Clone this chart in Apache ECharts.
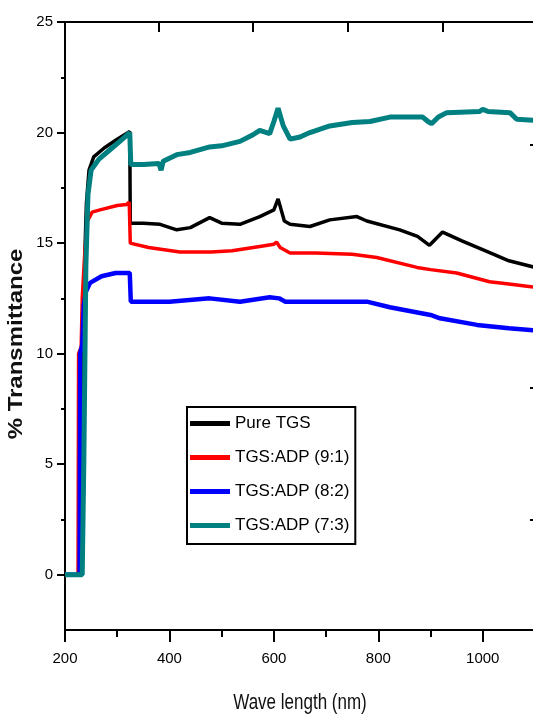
<!DOCTYPE html>
<html>
<head>
<meta charset="utf-8">
<script src="https://cdn.jsdelivr.net/npm/echarts@6/dist/echarts.min.js"></script>
<style>html,body{margin:0;padding:0;background:#fff;}#chart{width:533px;height:717px;}</style>
</head>
<body>
<div id="chart"></div>
<script>
// ---- data (wavelength nm, % transmittance) ----
const seriesNames = ['Pure TGS', 'TGS:ADP (9:1)', 'TGS:ADP (8:2)', 'TGS:ADP (7:3)'];
const pureTGS = [[200,0],[232,0],[234,9],[238,14.5],[241,16.8],[246,18.3],[255,18.9],[275,19.3],[300,19.7],[324,20.05],[325,15.9],[350,15.9],[382,15.85],[414,15.6],[440,15.7],[477,16.15],[500,15.9],[535,15.85],[573,16.2],[600,16.5],[608,17.0],[620,16.0],[631,15.85],[669,15.75],[707,16.05],[759,16.2],[778,16.0],[841,15.6],[875,15.3],[898,14.9],[923,15.5],[960,15.1],[1020,14.5],[1050,14.2],[1100,13.9]];
const adp91 = [[200,0],[225,0],[226,10],[231,10.3],[233,12.5],[238,14.6],[243,16.0],[252,16.4],[267,16.5],[300,16.7],[318,16.75],[323,16.85],[325,15.0],[360,14.8],[420,14.6],[480,14.6],[520,14.65],[573,14.85],[600,14.95],[605,15.05],[612,14.8],[631,14.55],[680,14.55],[750,14.5],[797,14.35],[874,13.9],[900,13.8],[950,13.65],[1013,13.25],[1050,13.15],[1100,13.0]];
const adp82 = [[200,0],[228,0],[229,10],[233,10.4],[236,12.2],[240,12.8],[248,13.2],[270,13.5],[297,13.65],[324,13.65],[326,12.35],[400,12.35],[477,12.5],[535,12.35],[592,12.55],[610,12.5],[622,12.35],[700,12.35],[778,12.35],[822,12.1],[900,11.75],[918,11.6],[989,11.3],[1050,11.15],[1100,11.05]];
const adp73 = [[200,0],[233,0],[236,5],[240,14],[244,17.2],[250,18.3],[265,18.8],[285,19.2],[305,19.6],[324,20.0],[326,18.55],[350,18.55],[380,18.6],[384,18.3],[388,18.7],[414,19.0],[440,19.1],[477,19.35],[500,19.4],[535,19.6],[560,19.9],[573,20.1],[592,19.95],[600,20.5],[608,21.1],[618,20.3],[631,19.7],[650,19.8],[669,20.0],[707,20.3],[750,20.45],[784,20.5],[822,20.7],[885,20.7],[895,20.5],[902,20.4],[915,20.7],[931,20.9],[994,20.95],[1000,21.05],[1010,20.95],[1052,20.9],[1065,20.6],[1100,20.55]];
const xMajorTicks = [200, 400, 600, 800, 1000];
const xMinorTicks = [300, 500, 700, 900];
const xTopTicks = [380, 560, 742, 923];
const yMajorTicks = [0, 5, 10, 15, 20, 25];
const yMinorTicks = [2.5, 7.5, 12.5, 17.5, 22.5];
const yRightTicks = [2.49, 8.46, 19.46];
const colors = ['#000000', '#ff0000', '#0000ff', '#008080'];
const widths = [3.5, 3.5, 4.5, 5];

const FONT = '"Liberation Sans", Arial, sans-serif';
const axisLineStyle = { color: '#000', width: 2 };
const plain = v => String(v);

const chart = echarts.init(document.getElementById('chart'), null, { renderer: 'canvas' });
const allData = [pureTGS, adp91, adp82, adp73];

chart.setOption({
  backgroundColor: '#fff',
  animation: false,
  grid: { left: 65, right: -2, top: 22, bottom: 87, containLabel: false, outerBoundsMode: 'none' },
  xAxis: [
    { type: 'value', position: 'bottom', min: 200, max: 1100,
      axisLine: { show: true, onZero: false, lineStyle: axisLineStyle },
      axisTick: { show: true, inside: false, length: 12, customValues: xMajorTicks, lineStyle: { color: '#000', width: 2 } },
      axisLabel: { show: true, customValues: xMajorTicks, formatter: plain, margin: 21, fontFamily: FONT, fontSize: 15, color: '#000' },
      splitLine: { show: false } },
    { type: 'value', position: 'bottom', min: 200, max: 1100,
      axisLine: { show: false, onZero: false },
      axisTick: { show: true, inside: false, length: 7, customValues: xMinorTicks, lineStyle: { color: '#000', width: 2 } },
      axisLabel: { show: false }, splitLine: { show: false } },
    { type: 'value', position: 'top', min: 200, max: 1100,
      axisLine: { show: true, onZero: false, lineStyle: axisLineStyle },
      axisTick: { show: true, inside: true, length: 10, customValues: xTopTicks, lineStyle: { color: '#000', width: 2 } },
      axisLabel: { show: false }, splitLine: { show: false } }
  ],
  yAxis: [
    { type: 'value', position: 'left', min: -2.5, max: 25,
      axisLine: { show: true, onZero: false, lineStyle: axisLineStyle },
      axisTick: { show: true, inside: false, length: 8, customValues: yMajorTicks, lineStyle: { color: '#000', width: 2 } },
      axisLabel: { show: true, customValues: yMajorTicks, formatter: plain, margin: 12, fontFamily: FONT, fontSize: 15, color: '#000' },
      splitLine: { show: false } },
    { type: 'value', position: 'left', min: -2.5, max: 25,
      axisLine: { show: false, onZero: false },
      axisTick: { show: true, inside: false, length: 4, customValues: yMinorTicks, lineStyle: { color: '#000', width: 2 } },
      axisLabel: { show: false }, splitLine: { show: false } },
    { type: 'value', position: 'right', min: -2.5, max: 25,
      axisLine: { show: true, onZero: false, lineStyle: axisLineStyle },
      axisTick: { show: true, inside: true, length: 5, customValues: yRightTicks, lineStyle: { color: '#000', width: 2 } },
      axisLabel: { show: false }, splitLine: { show: false } }
  ],
  legend: {
    left: 187, top: 407, orient: 'vertical',
    padding: [8, 6, 10, 3], itemGap: 17, itemWidth: 40, itemHeight: 5, icon: 'rect',
    borderColor: '#000', borderWidth: 2, backgroundColor: '#fff',
    textStyle: { fontFamily: FONT, fontSize: 17, color: '#000' },
    data: seriesNames
  },
  graphic: [
    { type: 'text', x: 16, y: 344, rotation: Math.PI / 2, scaleX: 1.2,
      style: { text: '% Transmittance', font: 'bold 20px "Liberation Sans", Arial, sans-serif', fill: '#111', align: 'center', verticalAlign: 'middle' } },
    { type: 'text', x: 300, y: 703, scaleY: 1.25,
      style: { text: 'Wave length (nm)', font: '17px "Liberation Sans", Arial, sans-serif', fill: '#111', align: 'center', verticalAlign: 'middle' } }
  ],
  series: seriesNames.map((name, i) => ({
    name: name, type: 'line', xAxisIndex: 0, yAxisIndex: 0,
    data: allData[i], showSymbol: false, symbol: 'none',
    lineStyle: { color: colors[i], width: widths[i] },
    itemStyle: { color: colors[i] },
    z: 2 + i
  }))
});
</script>
</body>
</html>
